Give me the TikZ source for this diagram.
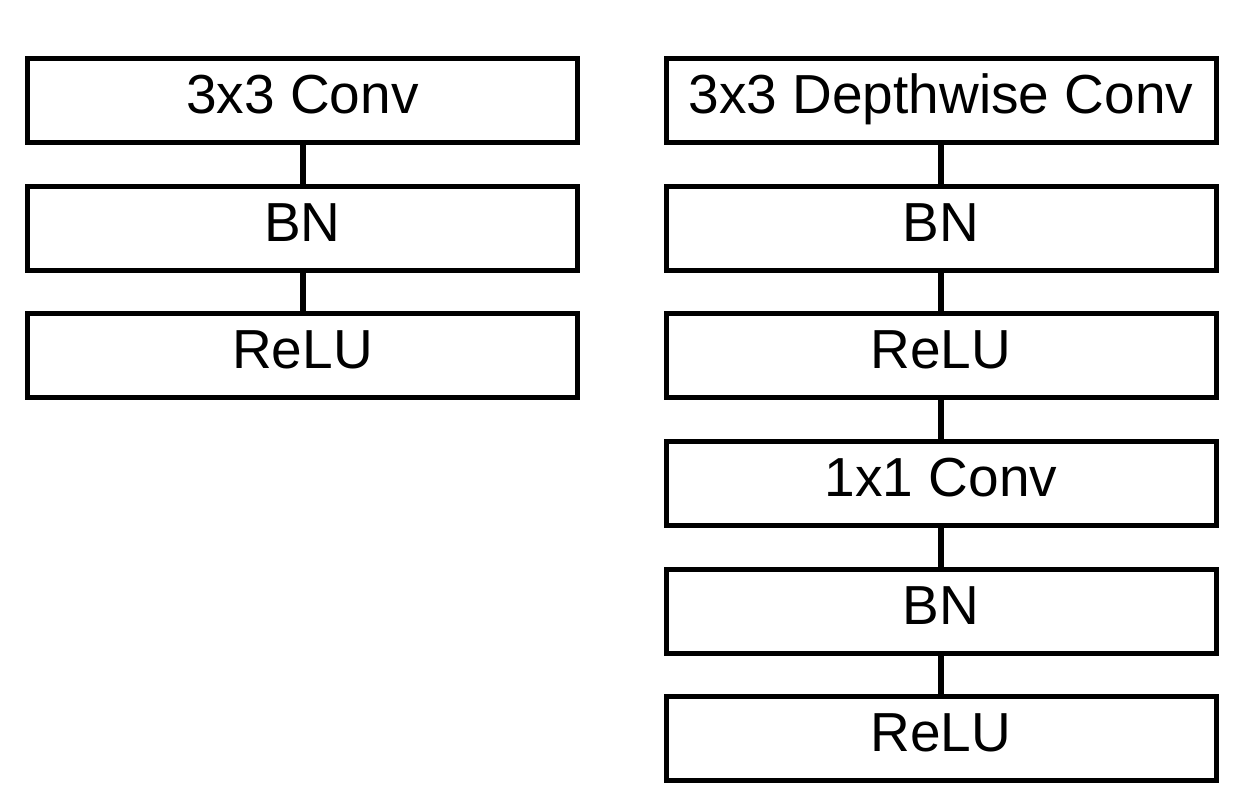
\documentclass[tikz,border=0pt]{standalone}
\usepackage{fontspec}
\setmainfont{Liberation Sans}
\begin{document}
\begin{tikzpicture}[x=1pt,y=-1pt,line width=5pt]

\tikzset{layer/.style={draw,minimum width=550pt,minimum height=84pt,inner sep=0pt,
	font=\fontsize{55}{66}\selectfont}}
\tikzset{link/.style={line width=6pt}}

\useasboundingbox (0,0) rectangle (1246,797);

\def\layer#1#2#3#4{
\node[layer] (#1) at (#2,#3) {#4\strut};
}

% standard convolution
\layer{convA}{302.5}{100.5}{3x3 Conv}
\layer{bnA}{302.5}{228}{BN}
\layer{reluA}{302.5}{355}{ReLU}

% depthwise separable convolution
\layer{dwB}{941}{100.5}{3x3 Depthwise Conv}
\layer{bnB}{941}{228}{BN}
\layer{reluB}{941}{355}{ReLU}
\layer{pwB}{941}{483}{1x1 Conv}
\layer{bnC}{941}{611}{BN}
\layer{reluC}{941}{738.5}{ReLU}

\draw[link] (convA) -- (bnA);
\draw[link] (bnA) -- (reluA);

\draw[link] (dwB) -- (bnB);
\draw[link] (bnB) -- (reluB);
\draw[link] (reluB) -- (pwB);
\draw[link] (pwB) -- (bnC);
\draw[link] (bnC) -- (reluC);

\end{tikzpicture}
\end{document}
